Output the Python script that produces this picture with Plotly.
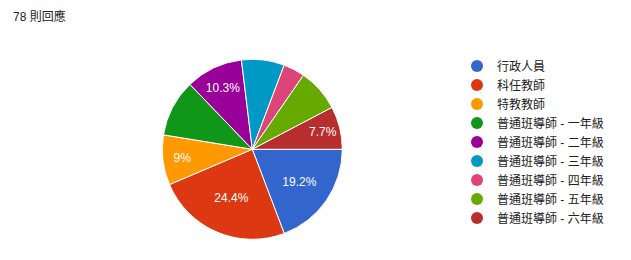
import plotly.graph_objects as go

title_text = "78 則回應"
categories = ["行政人員", "科任教師", "特教教師",
              "普通班導師 - 一年級", "普通班導師 - 二年級", "普通班導師 - 三年級",
              "普通班導師 - 四年級", "普通班導師 - 五年級", "普通班導師 - 六年級"]
counts = [15, 19, 7, 8, 8, 6, 3, 6, 6]
label_visible = [True, True, True, False, True, False, False, False, True]
colors = ["#3366cc", "#dc3912", "#ff9900", "#109618", "#990099",
          "#0099c6", "#dd4477", "#66aa00", "#b82e2e"]

total = sum(counts)
texts = []
for c, show in zip(counts, label_visible):
    p = round(c / total * 100, 1)
    s = f"{p:g}%"
    texts.append(s if show else "")

W, H = 631, 260
cx, cy, r = 252.3, 149.3, 90

fig = go.Figure()
fig.add_trace(go.Pie(
    labels=categories, values=counts, text=texts,
    textinfo="text", texttemplate="%{text}",
    textposition="inside", insidetextorientation="horizontal",
    textfont=dict(color="white", size=12, family="Arial, Liberation Sans, sans-serif"),
    marker=dict(colors=colors, line=dict(color="white", width=1)),
    sort=False, direction="clockwise", rotation=90,
    domain=dict(x=[(cx - r) / W, (cx + r) / W], y=[(H - cy - r) / H, (H - cy + r) / H]),
    showlegend=False, hoverinfo="skip",
))
for name, col in zip(categories, colors):
    fig.add_trace(go.Scatter(x=[None], y=[None], mode="markers", name=name,
                             marker=dict(color=col, size=12, symbol="circle"),
                             hoverinfo="skip"))

fig.update_layout(
    width=W, height=H, margin=dict(l=0, r=0, t=0, b=0),
    paper_bgcolor="white", plot_bgcolor="white",
    xaxis=dict(visible=False), yaxis=dict(visible=False),
    font=dict(family="Arial, Liberation Sans, Noto Sans CJK TC, sans-serif", color="#222222"),
    legend=dict(x=457 / W, xanchor="left", y=1 - 51.5 / H, yanchor="top",
                font=dict(size=12, color="#222222"), itemsizing="constant",
                bgcolor="rgba(0,0,0,0)", tracegroupgap=0),
    annotations=[dict(text=title_text, x=11 / W, y=1 - 17 / H, xref="paper", yref="paper",
                      xanchor="left", yanchor="middle", showarrow=False,
                      font=dict(size=12, color="#222222"))],
)
fig.write_html("out.html")
